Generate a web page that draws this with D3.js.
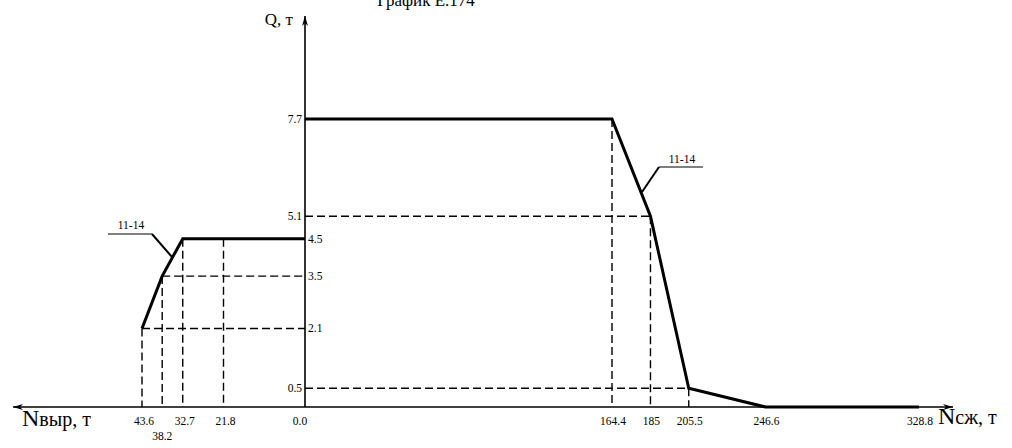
<!DOCTYPE html>
<html>
<head>
<meta charset="utf-8">
<script src="https://cdn.jsdelivr.net/npm/d3@7"></script>
<style>
  html, body { margin: 0; padding: 0; background: #fff; }
  svg { display: block; font-family: "Liberation Serif", "DejaVu Serif", serif; }
</style>
</head>
<body>
<div id="chart"></div>
<script>
// Q, т levels
const qTicks = [7.7, 5.1, 4.5, 3.5, 2.1, 0.5];
// compression side (right)
const compN = [0, 164.4, 185, 205.5, 246.6, 328.8];
const compQ = [7.7, 7.7, 5.1, 0.5, 0, 0];
// tension side (left)
const tensN = [43.6, 38.2, 32.7, 0];
const tensQ = [2.1, 3.5, 4.5, 4.5];
const tensTicks = [43.6, 38.2, 32.7, 21.8, 0.0];
const compTicks = [164.4, 185, 205.5, 246.6, 328.8];

const W = 1012, H = 448;
const originX = 305, originY = 407;

const svg = d3.select('#chart').append('svg')
  .attr('width', W).attr('height', H);

const y = d3.scaleLinear().domain([0, 7.7]).range([originY, 119]);
const xR = d3.scaleLinear().domain([0, 328.8]).range([originX, 919]);
const xL = d3.scaleLinear().domain([0, 43.6]).range([originX, 142]);

const defs = svg.append('defs');
defs.append('marker').attr('id', 'arr')
  .attr('viewBox', '0 0 10 6').attr('refX', 10).attr('refY', 3)
  .attr('markerWidth', 16).attr('markerHeight', 6).attr('markerUnits', 'userSpaceOnUse')
  .attr('orient', 'auto')
  .append('path').attr('d', 'M0,0 L10,3 L0,6 L3,3 Z').attr('fill', '#000');

// title (cut by the top edge, as in the source scan)
svg.append('text').attr('x', 426).attr('y', 6).attr('text-anchor', 'middle')
  .attr('font-size', 17).text('График Е.174');

// axes
svg.append('line').attr('x1', originX).attr('y1', originY).attr('x2', 953).attr('y2', originY)
  .attr('stroke', '#000').attr('stroke-width', 1.6).attr('marker-end', 'url(#arr)');
svg.append('line').attr('x1', originX).attr('y1', originY).attr('x2', 13).attr('y2', originY)
  .attr('stroke', '#000').attr('stroke-width', 1.6).attr('marker-end', 'url(#arr)');
svg.append('line').attr('x1', originX).attr('y1', originY).attr('x2', originX).attr('y2', 16)
  .attr('stroke', '#000').attr('stroke-width', 1.6).attr('marker-end', 'url(#arr)');

// axis titles
svg.append('text').attr('x', 293).attr('y', 25).attr('text-anchor', 'end')
  .attr('font-size', 17).text('Q, т');
svg.append('text').attr('x', 22).attr('y', 426).attr('font-size', 20)
  .html('<tspan font-size="24">N</tspan>выр, т');
svg.append('text').attr('x', 938).attr('y', 424).attr('font-size', 20)
  .html('<tspan font-size="24">N</tspan>сж, т');

// dashed guides
const dash = svg.append('g').attr('stroke', '#000').attr('stroke-width', 1.4)
  .attr('stroke-dasharray', '8,4').attr('fill', 'none');
const guide = (x1, y1, x2, y2) => dash.append('line')
  .attr('x1', x1).attr('y1', y1).attr('x2', x2).attr('y2', y2);

// left side
tensN.forEach((n, i) => { if (n > 0) guide(xL(n), y(tensQ[i]), xL(n), originY); });
guide(xL(21.8), y(4.5), xL(21.8), originY);
guide(xL(43.6), y(2.1), xL(0), y(2.1));
guide(xL(38.2), y(3.5), xL(0), y(3.5));
// right side
[[164.4, 7.7], [185, 5.1], [205.5, 0.5]].forEach(([n, q]) => guide(xR(n), y(q), xR(n), originY));
guide(xR(0), y(5.1), xR(185), y(5.1));
guide(xR(0), y(0.5), xR(205.5), y(0.5));

// curves
const lineR = d3.line().x((d) => xR(d[0])).y((d) => y(d[1]));
const lineL = d3.line().x((d) => xL(d[0])).y((d) => y(d[1]));
svg.append('path').attr('d', lineR(compN.map((n, i) => [n, compQ[i]])))
  .attr('fill', 'none').attr('stroke', '#000').attr('stroke-width', 3).attr('stroke-linejoin', 'miter');
svg.append('path').attr('d', lineL(tensN.map((n, i) => [n, tensQ[i]])))
  .attr('fill', 'none').attr('stroke', '#000').attr('stroke-width', 3).attr('stroke-linejoin', 'miter');

// tick labels
const tickFont = 11.5;
const fmt = (v) => (Number.isInteger(v) && v !== 0 ? String(v) : v.toFixed(1));
tensTicks.forEach((n) => {
  svg.append('text').attr('x', n === 0 ? xL(n) - 5 : xL(n) + (n === 38.2 ? 0 : 2))
    .attr('y', n === 38.2 ? 440 : 425).attr('text-anchor', 'middle')
    .attr('font-size', tickFont).text(fmt(n));
});
compTicks.forEach((n) => {
  svg.append('text').attr('x', xR(n) + 1).attr('y', 425).attr('text-anchor', 'middle')
    .attr('font-size', tickFont).text(fmt(n));
});
qTicks.forEach((q) => {
  const right = q === 4.5 || q === 3.5 || q === 2.1;
  svg.append('text').attr('x', right ? originX + 3 : originX - 3).attr('y', y(q) + 4)
    .attr('text-anchor', right ? 'start' : 'end')
    .attr('font-size', tickFont).text(q.toFixed(1));
});

// leader callouts
const lead = svg.append('g').attr('stroke', '#000').attr('fill', 'none');
lead.append('polyline').attr('points', '108,234 152,234').attr('stroke-width', 1.2);
lead.append('polyline').attr('points', '152,234 172,257').attr('stroke-width', 2);
lead.append('polyline').attr('points', '703,167 659,167').attr('stroke-width', 1.2);
lead.append('polyline').attr('points', '659,167 642,192').attr('stroke-width', 2);
svg.append('text').attr('x', 131).attr('y', 229).attr('text-anchor', 'middle')
  .attr('font-size', tickFont).text('11-14');
svg.append('text').attr('x', 682).attr('y', 163).attr('text-anchor', 'middle')
  .attr('font-size', tickFont).text('11-14');
</script>
</body>
</html>
